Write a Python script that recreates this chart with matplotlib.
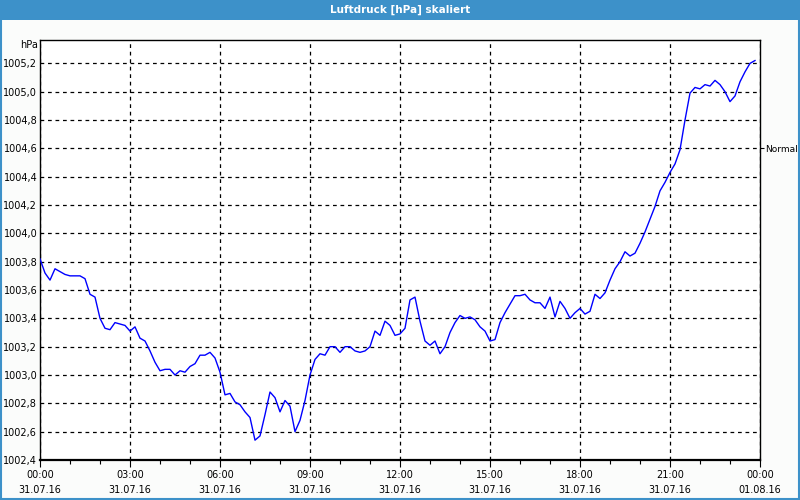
import numpy as np
import matplotlib
matplotlib.use('Agg')
import matplotlib.pyplot as plt
from matplotlib.patches import Rectangle
from matplotlib.ticker import FixedLocator, MultipleLocator, FuncFormatter

# Luftdruck, 10-Minuten-Werte ab 31.07.16 00:00
pressure = [
    1003.82, 1003.72, 1003.67, 1003.75, 1003.73, 1003.71, 1003.70, 1003.70,
    1003.70, 1003.68, 1003.57, 1003.55, 1003.40, 1003.33, 1003.32, 1003.37,
    1003.36, 1003.35, 1003.31, 1003.34, 1003.26, 1003.24, 1003.17, 1003.09,
    1003.03, 1003.04, 1003.04, 1003.00, 1003.03, 1003.02, 1003.06, 1003.08,
    1003.14, 1003.14, 1003.16, 1003.12, 1003.02, 1002.86, 1002.87, 1002.81,
    1002.79, 1002.74, 1002.70, 1002.54, 1002.57, 1002.72, 1002.88, 1002.84,
    1002.74, 1002.82, 1002.78, 1002.60, 1002.68, 1002.82, 1003.00, 1003.11,
    1003.15, 1003.14, 1003.20, 1003.20, 1003.16, 1003.20, 1003.20, 1003.17,
    1003.16, 1003.17, 1003.20, 1003.31, 1003.28, 1003.38, 1003.35, 1003.28,
    1003.29, 1003.33, 1003.53, 1003.55, 1003.38, 1003.24, 1003.21, 1003.24,
    1003.15, 1003.20, 1003.30, 1003.37, 1003.42, 1003.40, 1003.41, 1003.39,
    1003.34, 1003.31, 1003.24, 1003.25, 1003.37, 1003.44, 1003.50, 1003.56,
    1003.56, 1003.57, 1003.53, 1003.51, 1003.51, 1003.47, 1003.55, 1003.41,
    1003.52, 1003.47, 1003.40, 1003.44, 1003.47, 1003.43, 1003.45, 1003.57,
    1003.54, 1003.58, 1003.67, 1003.75, 1003.80, 1003.87, 1003.84, 1003.86,
    1003.93, 1004.01, 1004.10, 1004.19, 1004.30, 1004.36, 1004.43, 1004.49,
    1004.59, 1004.80, 1004.99, 1005.03, 1005.02, 1005.05, 1005.04, 1005.08,
    1005.05, 1005.00, 1004.93, 1004.97, 1005.07, 1005.14, 1005.20, 1005.22,
]
step_minutes = 10

x_ticks = [0, 3, 6, 9, 12, 15, 18, 21, 24]
x_labels = ['00:00\n31.07.16', '03:00\n31.07.16', '06:00\n31.07.16',
            '09:00\n31.07.16', '12:00\n31.07.16', '15:00\n31.07.16',
            '18:00\n31.07.16', '21:00\n31.07.16', '00:00\n01.08.16']
y_ticks = [1002.4 + 0.2 * i for i in range(15)]
normal_level = 1004.6

title = 'Luftdruck [hPa] skaliert'
unit = 'hPa'

hours = np.arange(len(pressure)) * step_minutes / 60.0

plt.rcParams['font.family'] = ['DejaVu Sans']
fig = plt.figure(figsize=(8, 5), dpi=100)
fig.patch.set_facecolor('#fbfcfb')

# Titelleiste + Fensterrahmen
fig.patches.append(Rectangle((0, 0.96), 1, 0.04, transform=fig.transFigure,
                             facecolor='#3d91c9', edgecolor='none', zorder=0))
fig.patches.append(Rectangle((0.001, 0.002), 0.998, 0.996, transform=fig.transFigure,
                             facecolor='none', edgecolor='#3d91c9', linewidth=1.5, zorder=0))
fig.text(0.5, 0.981, title, ha='center', va='center', color='white',
         fontsize=7.5, fontweight='bold')

ax = fig.add_axes([0.05, 0.08, 0.90, 0.84])
ax.set_facecolor('white')
ax.plot(hours, pressure, color='#0000ff', linewidth=1.0, zorder=3)

ax.set_xlim(0, 24)
ax.set_ylim(1002.4, 1005.365)

ax.xaxis.set_major_locator(FixedLocator(x_ticks))
ax.set_xticklabels(x_labels, fontsize=7, linespacing=1.6)
ax.xaxis.set_minor_locator(MultipleLocator(1))
ax.tick_params(axis='x', which='major', length=5, width=0.8, pad=2)
ax.tick_params(axis='x', which='minor', length=3, width=0.8)

ax.yaxis.set_major_locator(FixedLocator(y_ticks))
ax.yaxis.set_major_formatter(FuncFormatter(lambda v, p: f'{v:.1f}'.replace('.', ',')))
ax.tick_params(axis='y', which='major', length=0, pad=2, labelsize=7)

ax.grid(True, which='major', color='black', linestyle=(0, (3, 3)), linewidth=0.9)

for side in ['left', 'top', 'right']:
    ax.spines[side].set_linewidth(1.0)
ax.spines['bottom'].set_linewidth(1.6)
ax.spines['bottom'].set_linestyle((0, (3, 1)))

# rechte Markierung "Normal"
ax2 = ax.twinx()
ax2.set_ylim(ax.get_ylim())
ax2.set_yticks([normal_level])
ax2.set_yticklabels(['Normal'], fontsize=6.5)
ax2.tick_params(axis='y', length=3, width=0.8, pad=1)
for side in ['left', 'top', 'bottom', 'right']:
    ax2.spines[side].set_visible(False)

ax.text(-0.003, 1.0, unit, transform=ax.transAxes, ha='right', va='top', fontsize=7)

fig.savefig('out.png', dpi=100, facecolor=fig.get_facecolor())
